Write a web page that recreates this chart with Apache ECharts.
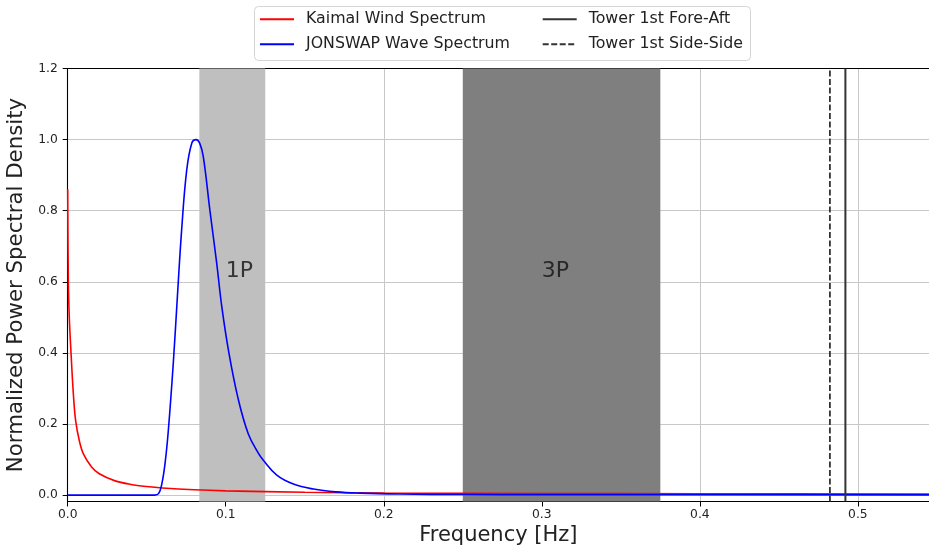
<!DOCTYPE html>
<html><head><meta charset="utf-8">
<script src="https://cdn.jsdelivr.net/npm/echarts@6/dist/echarts.min.js"></script>
<style>html,body{margin:0;padding:0;background:#fff}#c{width:929px;height:553px}</style>
</head><body><div id="c"></div>
<script>
// Frequencies [Hz] and normalized PSD values
const kaimalFreq = [0, 0.0004, 0.001, 0.0021, 0.0035, 0.005, 0.0075, 0.01, 0.015, 0.02, 0.03, 0.04, 0.05, 0.06, 0.08, 0.1, 0.15, 0.2, 0.3, 0.4, 0.545];
const kaimalPSD  = [0.86, 0.6, 0.5, 0.4, 0.29, 0.21, 0.15, 0.115, 0.08, 0.06, 0.04, 0.03, 0.024, 0.02, 0.015, 0.012, 0.008, 0.006, 0.0045, 0.0037, 0.003];

const jonswapFreq = [0, 0.055, 0.0575, 0.0595, 0.0616, 0.0637, 0.0668, 0.0694, 0.0721, 0.0753, 0.0785, 0.0812, 0.0835, 0.0858, 0.09, 0.0943, 0.0975, 0.102, 0.1078, 0.1143, 0.1206, 0.1238, 0.1323, 0.1428, 0.1555, 0.170, 0.185, 0.21, 0.25, 0.3, 0.545];
const jonswapPSD  = [0, 0, 0.004, 0.03, 0.089, 0.183, 0.37, 0.558, 0.746, 0.914, 0.99, 1.0, 0.99, 0.952, 0.8, 0.652, 0.53, 0.4, 0.272, 0.172, 0.118, 0.098, 0.056, 0.031, 0.017, 0.009, 0.0055, 0.003, 0.0015, 0.001, 0.0005];

const band1P = [0.0833, 0.125];
const band3P = [0.25, 0.375];
const bandLabels = [[0.1, 0.6, '1P'], [0.3, 0.6, '3P']];
const towerForeAft = 0.4921;
const towerSideSide = 0.4823;

const xTicks = [0, 0.1, 0.2, 0.3, 0.4, 0.5];
const yTicks = [0, 0.2, 0.4, 0.6, 0.8, 1.0, 1.2];
const xRange = [0, 0.545];
const yRange = [-0.018, 1.2];

const names = ['Kaimal Wind Spectrum', 'JONSWAP Wave Spectrum', 'Tower 1st Fore-Aft', 'Tower 1st Side-Side'];

const zip = (a, b) => a.map((v, i) => [v, b[i]]);
const FONT = 'DejaVu Sans';
const ink = '#222';

const legendCommon = {
  orient: 'vertical', top: 5.3, padding: 5,
  itemWidth: 34, itemHeight: 18, itemGap: 7,
  itemStyle: {opacity: 0},
  textStyle: {fontFamily: FONT, fontSize: 15.8, color: ink, lineHeight: 18, padding: [0, 0, 0, 7]}
};

const chart = echarts.init(document.getElementById('c'), null, {renderer: 'canvas'});
chart.setOption({
  animation: false,
  backgroundColor: '#fff',
  textStyle: {fontFamily: FONT},
  grid: {left: 67.7, top: 68.5, right: 0, bottom: 51.5, containLabel: false, outerBoundsMode: 'none'},
  legend: [
    Object.assign({data: [names[0], names[1]], left: 254}, legendCommon),
    Object.assign({data: [names[2], names[3]], left: 536.7}, legendCommon)
  ],
  graphic: [{type: 'rect', left: 254, top: 6, shape: {width: 496, height: 54, r: 4},
             style: {fill: 'rgba(255,255,255,0.8)', stroke: '#d5d5d5', lineWidth: 1}, z: -10}],
  xAxis: [{
    type: 'value', min: xRange[0], max: xRange[1],
    name: 'Frequency [Hz]', nameLocation: 'middle', nameGap: 21,
    nameTextStyle: {fontFamily: FONT, fontSize: 21, color: ink, verticalAlign: 'top'},
    axisLine: {show: true, onZero: false, lineStyle: {color: '#000', width: 1.1}},
    axisTick: {show: true, length: 5, customValues: xTicks, lineStyle: {color: '#000'}},
    axisLabel: {customValues: xTicks, margin: 7, fontFamily: FONT, fontSize: 12.3, color: ink,
                formatter: v => v.toFixed(1)},
    splitLine: {show: true, lineStyle: {color: '#c8c8c8', width: 1}}
  }, {
    type: 'value', position: 'top', min: xRange[0], max: xRange[1],
    axisLine: {show: true, onZero: false, lineStyle: {color: '#000', width: 1.1}},
    axisTick: {show: false}, axisLabel: {show: false}, splitLine: {show: false}
  }],
  yAxis: {
    type: 'value', min: yRange[0], max: yRange[1],
    name: 'Normalized Power Spectral Density', nameLocation: 'middle', nameGap: 36,
    nameTextStyle: {fontFamily: FONT, fontSize: 21.3, color: ink},
    axisLine: {show: true, onZero: false, lineStyle: {color: '#000', width: 1.1}},
    axisTick: {show: true, length: 5, customValues: yTicks, lineStyle: {color: '#000'}},
    axisLabel: {customValues: yTicks, margin: 10, fontFamily: FONT, fontSize: 12.3, color: ink,
                formatter: v => v.toFixed(1)},
    splitLine: {show: true, lineStyle: {color: '#c8c8c8', width: 1}}
  },
  series: [
    {type: 'line', name: 'bands', data: [], z: -1, silent: true,
     markArea: {silent: true, data: [
       [{xAxis: band1P[0], itemStyle: {color: '#bfbfbf'}}, {xAxis: band1P[1]}],
       [{xAxis: band3P[0], itemStyle: {color: '#7f7f7f'}}, {xAxis: band3P[1]}]
     ]}},
    {type: 'scatter', name: 'bandText', data: bandLabels, symbolSize: 0, z: 5, silent: true,
     label: {show: true, position: [0, 0], align: 'left', verticalAlign: 'bottom',
             formatter: p => p.data[2], fontFamily: FONT, fontSize: 22, color: '#111'}},
    {type: 'line', name: names[0], data: zip(kaimalFreq, kaimalPSD), symbol: 'none',
     smooth: 0.35, z: 4,
     lineStyle: {color: '#ff0000', width: 1.6}, itemStyle: {color: '#ff0000'}},
    {type: 'line', name: names[1], data: zip(jonswapFreq, jonswapPSD), symbol: 'none',
     smooth: 0.4, z: 4,
     lineStyle: {color: '#0000ff', width: 1.6}, itemStyle: {color: '#0000ff'}},
    {type: 'line', name: names[2], data: [[towerForeAft, yRange[0]], [towerForeAft, yRange[1]]],
     symbol: 'none', z: 4, lineStyle: {color: '#333', width: 2}, itemStyle: {color: '#333'}},
    {type: 'line', name: names[3], data: [[towerSideSide, yRange[0]], [towerSideSide, yRange[1]]],
     symbol: 'none', z: 4, lineStyle: {color: '#333', width: 1.8, type: [6, 2.5]}, itemStyle: {color: '#333'}}
  ]
});
</script></body></html>
